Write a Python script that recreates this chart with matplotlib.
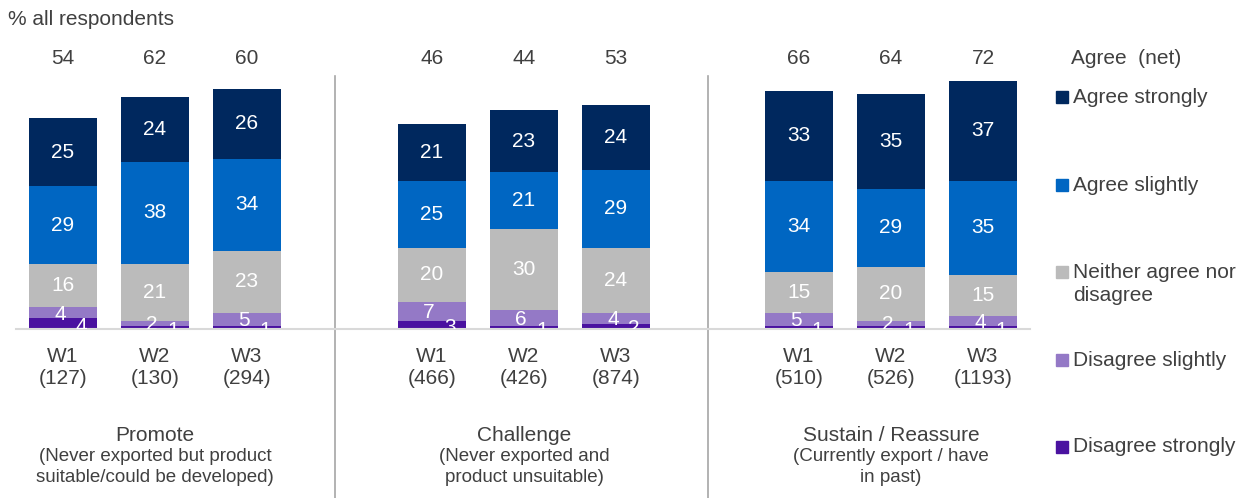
import numpy as np
import matplotlib
matplotlib.use("Agg")
import matplotlib.pyplot as plt

plt.rcParams['font.family'] = ['Liberation Sans', 'DejaVu Sans']

#---------------------------------------------------
#----------------------data-------------------------
#---------------------------------------------------
groups = ["Promote", "Challenge", "Sustain / Reassure"]
group_notes = ["(Never exported but product\nsuitable/could be developed)",
               "(Never exported and\nproduct unsuitable)",
               "(Currently export / have\nin past)"]
waves = ["W1", "W2", "W3"]
bases = [[127, 130, 294], [466, 426, 874], [510, 526, 1193]]

# bottom -> top
series = ["Disagree strongly", "Disagree slightly", "Neither agree nor\ndisagree",
          "Agree slightly", "Agree strongly"]
disagree_strongly = [4, 1, 1, 3, 1, 2, 1, 1, 1]
disagree_slightly = [4, 2, 5, 7, 6, 4, 5, 2, 4]
neither = [16, 21, 23, 20, 30, 24, 15, 20, 15]
agree_slightly = [29, 38, 34, 25, 21, 29, 34, 29, 35]
agree_strongly = [25, 24, 26, 21, 23, 24, 33, 35, 37]
agree_net = [54, 62, 60, 46, 44, 53, 66, 64, 72]

colors = ["#4A12A0", "#9479C6", "#BBBBBB", "#0066C2", "#00285E"]
TXT = "#404040"

#---------------------------------------------------
#----------------------layout-----------------------
#---------------------------------------------------
W, H = 1250, 498
BASE_PX = 329           # pixel row of the baseline
PX_PER_UNIT = 2.7
group_x0 = [63, 432, 799]
step = 92
bar_w = 68

def yv(py):
    """pixel row -> data value"""
    return (BASE_PX - py) / PX_PER_UNIT

fig = plt.figure(figsize=(W / 100, H / 100), dpi=100)
ax_h = 100 * PX_PER_UNIT
ax = fig.add_axes([0, (H - BASE_PX) / H, 1, ax_h / H])
ax.set_xlim(0, W)
ax.set_ylim(0, 100)
ax.axis("off")

xs = [group_x0[g] + i * step for g in range(3) for i in range(3)]
stack = [disagree_strongly, disagree_slightly, neither, agree_slightly, agree_strongly]

bottom = np.zeros(9)
for k, vals in enumerate(stack):
    vals = np.array(vals, dtype=float)
    ax.bar(xs, vals, bottom=bottom, width=bar_w, color=colors[k],
           edgecolor="none", zorder=2)
    for x, b, v in zip(xs, bottom, vals):
        cy = b + v / 2
        if k >= 2:
            ax.text(x, cy, f"{int(v)}", ha="center", va="center",
                    color="white", fontsize=15, zorder=4)
        elif k == 1:
            ax.text(x - 3, cy - 0.5, f"{int(v)}", ha="center", va="center",
                    color="white", fontsize=15, zorder=4, clip_on=True)
        else:
            ax.text(x + 18, cy - 1, f"{int(v)}", ha="center", va="center",
                    color="white", fontsize=15, zorder=4, clip_on=True)
    bottom += vals

# net agree above bars
for x, n in zip(xs, agree_net):
    ax.text(x, yv(58), f"{n}", ha="center", va="center", color=TXT,
            fontsize=15, clip_on=False)

# baseline and separators
ax.plot([16, 1030], [0, 0], color="#D9D9D9", lw=1.5, zorder=3, clip_on=False)
for sx in [335, 708]:
    ax.plot([sx, sx], [yv(76), yv(498)], color="#A6A6A6", lw=1.2,
            clip_on=False)

# category labels
for g in range(3):
    for i in range(3):
        x = group_x0[g] + i * step
        ax.text(x, yv(356), waves[i], ha="center", va="center", color=TXT,
                fontsize=15, clip_on=False)
        ax.text(x, yv(378), f"({bases[g][i]})", ha="center", va="center",
                color=TXT, fontsize=15, clip_on=False)
    gx = group_x0[g] + step
    ax.text(gx, yv(435), groups[g], ha="center", va="center", color=TXT,
            fontsize=15, clip_on=False)
    ax.text(gx, yv(448), group_notes[g], ha="center", va="top", color=TXT,
            fontsize=13.5, linespacing=1.3, clip_on=False)

ax.text(8, yv(19), "% all respondents", ha="left", va="center", color=TXT,
        fontsize=15, clip_on=False)

# legend (top -> bottom)
ax.text(1071, yv(58), "Agree  (net)", ha="left", va="center", color=TXT,
        fontsize=15, clip_on=False)
leg_rows = [97, 185, 272, 360, 447]
for k, py in zip(range(4, -1, -1), leg_rows):
    ax.plot([1061.5], [yv(py)], marker="s", markersize=8, color=colors[k],
            clip_on=False, linestyle="none")
    if "\n" in series[k]:
        ax.text(1073, yv(py - 9), series[k], ha="left", va="top", color=TXT,
                fontsize=15, linespacing=1.25, clip_on=False)
    else:
        ax.text(1073, yv(py), series[k], ha="left", va="center", color=TXT,
                fontsize=15, clip_on=False)

fig.savefig("out.png", dpi=100)
